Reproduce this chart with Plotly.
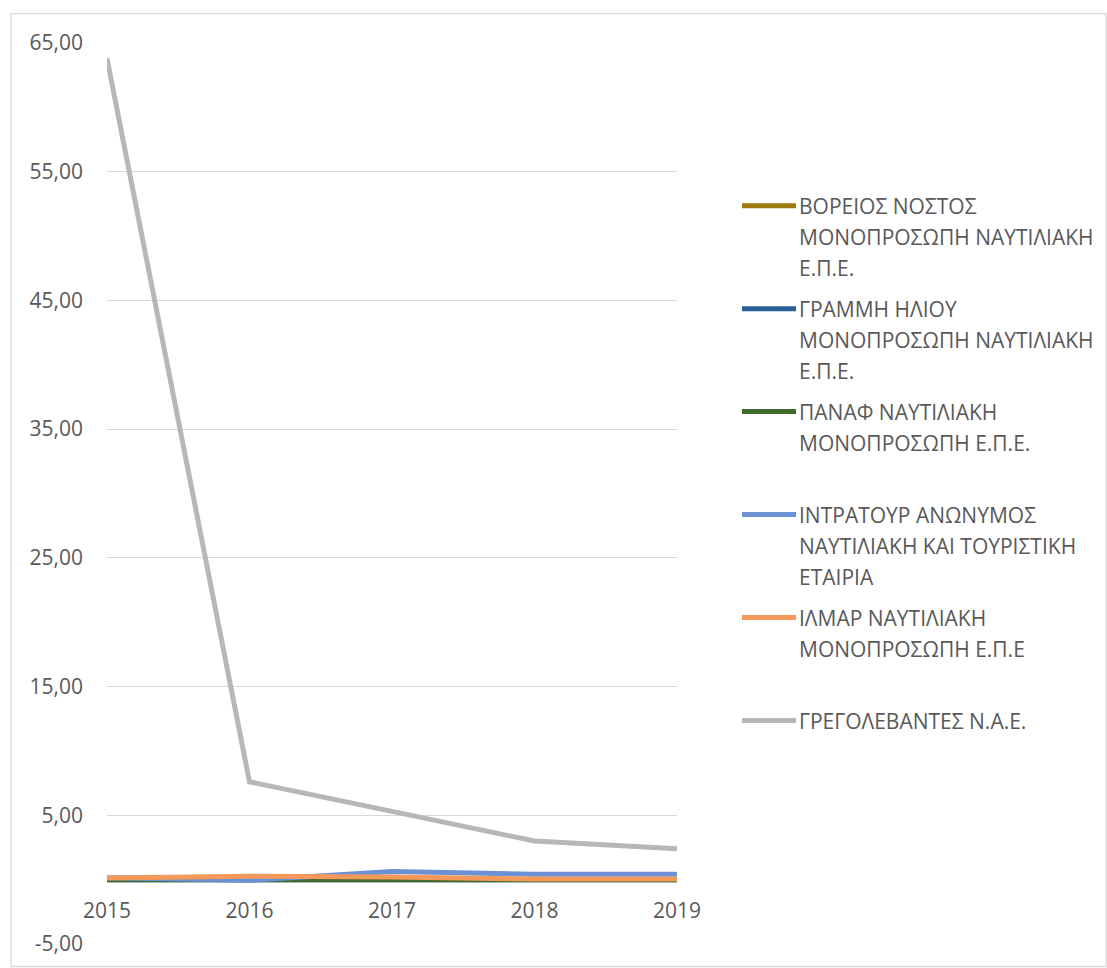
import plotly.graph_objects as go

years = ["2015", "2016", "2017", "2018", "2019"]

voreios_nostos = [0.02, 0.02, 0.02, 0.02, 0.02]
grammi_iliou = [0.0, 0.0, 0.0, 0.0, 0.0]
panaf = [0.0, 0.0, 0.05, 0.0, 0.0]
intratour = [0.15, -0.05, 0.64, 0.41, 0.41]
ilmar = [0.13, 0.26, 0.2, 0.05, 0.05]
gregolevantes = [63.8, 7.6, 5.3, 3.0, 2.4]

series_names = [
    ["ΒΟΡΕΙΟΣ ΝΟΣΤΟΣ", "ΜΟΝΟΠΡΟΣΩΠΗ ΝΑΥΤΙΛΙΑΚΗ", "Ε.Π.Ε."],
    ["ΓΡΑΜΜΗ ΗΛΙΟΥ", "ΜΟΝΟΠΡΟΣΩΠΗ ΝΑΥΤΙΛΙΑΚΗ", "Ε.Π.Ε."],
    ["ΠΑΝΑΦ ΝΑΥΤΙΛΙΑΚΗ", "ΜΟΝΟΠΡΟΣΩΠΗ Ε.Π.Ε."],
    ["ΙΝΤΡΑΤΟΥΡ ΑΝΩΝΥΜΟΣ", "ΝΑΥΤΙΛΙΑΚΗ ΚΑΙ ΤΟΥΡΙΣΤΙΚΗ", "ΕΤΑΙΡΙΑ"],
    ["ΙΛΜΑΡ ΝΑΥΤΙΛΙΑΚΗ", "ΜΟΝΟΠΡΟΣΩΠΗ Ε.Π.Ε"],
    ["ΓΡΕΓΟΛΕΒΑΝΤΕΣ Ν.Α.Ε."],
]
series_values = [voreios_nostos, grammi_iliou, panaf, intratour, ilmar, gregolevantes]
series_colors = ["#9E7A0C", "#2B6198", "#3F6A2C", "#6B90D4", "#F4995A", "#B7B7B7"]

y_tickvals = [-5, 5, 15, 25, 35, 45, 55, 65]
y_ticktext = ["-5,00", "5,00", "15,00", "25,00", "35,00", "45,00", "55,00", "65,00"]

W, H = 1107, 968
L, R, T, B = 107, 677, 43.3, 944.5
pw, ph = R - L, B - T

def px(x):
    return (x - L) / pw

def py(y):
    return (B - y) / ph

FONT = "Open Sans"
FS = 21
GREY_TXT = "#595959"

fig = go.Figure()
for name, vals, col in zip(series_names, series_values, series_colors):
    fig.add_trace(go.Scatter(
        x=years, y=vals, mode="lines", name=" ".join(name),
        line=dict(color=col, width=5), showlegend=False,
    ))

shapes = [dict(type="rect", xref="paper", yref="paper",
               x0=px(11), x1=px(1106), y0=py(967), y1=py(14),
               line=dict(color="#D9D9D9", width=1.3), fillcolor="rgba(0,0,0,0)", layer="below")]
annotations = []
first_y = 206
for i, (name, col) in enumerate(zip(series_names, series_colors)):
    y0 = first_y + i * 103
    shapes.append(dict(type="line", xref="paper", yref="paper",
                       x0=px(742), x1=px(796), y0=py(y0), y1=py(y0),
                       line=dict(color=col, width=5)))
    for k, line in enumerate(name):
        annotations.append(dict(xref="paper", yref="paper", x=px(797), y=py(y0 + k * 31),
                                text=line, showarrow=False, xanchor="left", yanchor="middle",
                                font=dict(family=FONT, size=FS, color=GREY_TXT)))

fig.update_layout(
    width=W, height=H,
    margin=dict(l=L, r=W - R, t=T, b=H - B),
    plot_bgcolor="white", paper_bgcolor="white",
    font=dict(family=FONT, size=FS, color=GREY_TXT),
    shapes=shapes, annotations=annotations,
    xaxis=dict(type="category", range=[0, 4], showgrid=False, zeroline=False,
               showline=False, anchor="free", position=py(880), ticks="",
               ticklabelstandoff=16, tickfont=dict(family=FONT, size=FS, color=GREY_TXT)),
    yaxis=dict(range=[-5, 65], tickvals=y_tickvals, ticktext=y_ticktext,
               showgrid=True, gridcolor="#D9D9D9", gridwidth=1.3, zeroline=False,
               showline=False, ticks="", ticklabelstandoff=23,
               tickfont=dict(family=FONT, size=FS, color=GREY_TXT)),
)

fig.write_html("out.html")
